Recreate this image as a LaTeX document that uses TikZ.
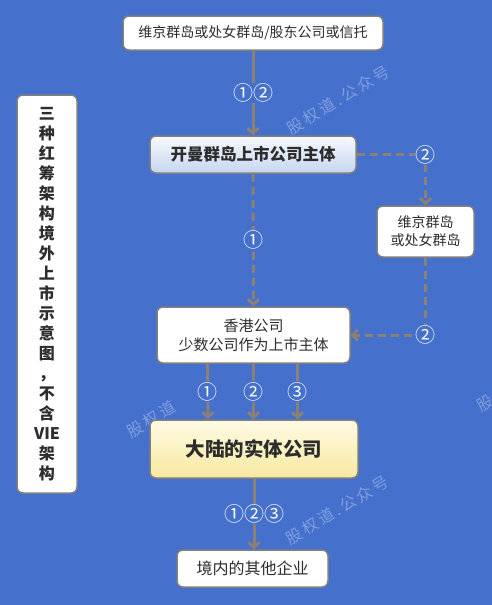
\documentclass[tikz,border=0pt]{standalone}
\usepackage{fontspec}
\setmainfont{Noto Sans CJK SC}
\usetikzlibrary{arrows.meta,shadings}
\definecolor{bg}{RGB}{69,112,204}
\definecolor{ln}{RGB}{140,128,118}
\definecolor{bd}{RGB}{128,128,128}
\definecolor{tx}{RGB}{45,45,45}
\definecolor{wm}{RGB}{128,158,222}
\tikzset{
  box/.style={draw=bd, line width=1.5pt, rounded corners=6pt, fill=white, inner sep=0pt, text=tx, align=center},
  conn/.style={draw=ln, line width=3pt, -{Straight Barb[length=5pt,width=11pt]}},
  dconn/.style={conn, dash pattern=on 8pt off 5pt},
  num/.style={fill=bg, text=white, inner sep=1pt, font=\fontsize{20}{20}\selectfont},
  wmark/.style={text=wm, rotate=31, anchor=west, inner sep=0pt, font=\fontsize{16}{16}\selectfont}
}
\begin{document}
\begin{tikzpicture}[x=1pt,y=-1pt]
\fill[bg] (0,0) rectangle (492,605);
\useasboundingbox (0,0) rectangle (492,605);
% watermarks
\node[wmark] (w1) at (288,130) {股\,权\,道\,.\,公\,众\,号};
\node[wmark] (w2) at (128,433) {股\,权\,道};
\node[wmark] (w3) at (478,408) {股};
\node[wmark] (w4) at (287,540) {股\,权\,道\,.\,公\,众\,号};
% boxes
\node[box, minimum width=260pt, minimum height=34pt, font=\fontsize{14}{14}\selectfont] (top) at (253,33) {维京群岛或处女群岛/股东公司或信托};
\node[box, top color={rgb,255:red,246;green,249;blue,254}, bottom color={rgb,255:red,198;green,214;blue,239}, minimum width=206pt, minimum height=37pt, font=\fontsize{16.5}{16.5}\selectfont\bfseries] (kai) at (253,154.5) {开曼群岛上市公司主体};
\node[box, minimum width=97pt, minimum height=51pt, font=\fontsize{14}{18}\selectfont] (bvi) at (425.5,231.5) {维京群岛\\或处女群岛};
\node[box, minimum width=193pt, minimum height=56pt, font=\fontsize{15}{19}\selectfont] (hk) at (253.5,335) {香港公司\\少数公司作为上市主体};
\node[box, top color={rgb,255:red,255;green,251;blue,228}, bottom color={rgb,255:red,247;green,232;blue,160}, minimum width=208pt, minimum height=58pt, font=\fontsize{19.5}{19.5}\selectfont\bfseries] (main) at (254,449) {大陆的实体公司};
\node[box, minimum width=151pt, minimum height=37pt, font=\fontsize{16}{16}\selectfont] (bot) at (252.5,568.5) {境内的其他企业};
\node[box, minimum width=60pt, minimum height=398pt, font=\fontsize{16}{20}\selectfont\bfseries] (left) at (47,294) {三\\种\\红\\筹\\架\\构\\境\\外\\上\\市\\示\\意\\图\\，\\不\\含\\VIE\\架\\构};
% connectors
\draw[conn] (top.south) -- node[num] {①②} (kai.north);
\draw[dconn] (kai.east) -| node[num, pos=0.5] {②} (bvi.north);
\draw[dconn] (bvi.south) |- node[num, pos=0.5] {②} (hk.east);
\draw[dconn] (kai.south) -- node[num] {①} (hk.north);
\draw[conn] ([xshift=-46pt]hk.south) -- node[num] {①} ([xshift=-46pt]main.north);
\draw[conn] (hk.south) -- node[num] {②} (main.north -| hk.south);
\draw[conn] ([xshift=44pt]hk.south) -- node[num] {③} ([xshift=44pt]main.north -| hk.south);
\draw[conn] (main.south) -- node[num] {①②③} (bot.north -| main.south);
\end{tikzpicture}
\end{document}
